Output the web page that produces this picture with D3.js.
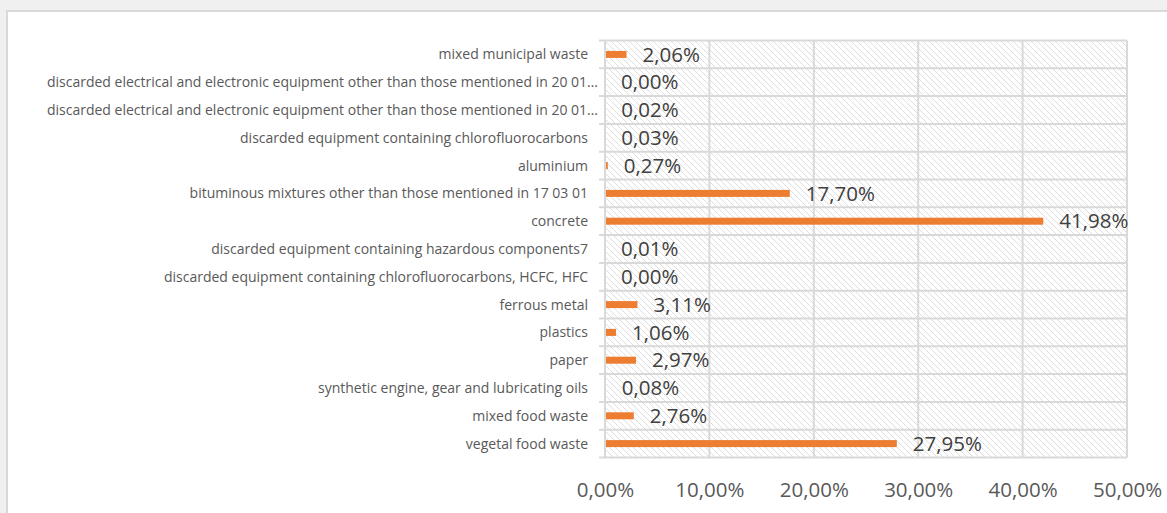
<!DOCTYPE html>
<html><head><meta charset="utf-8">
<script src="https://cdn.jsdelivr.net/npm/d3@7"></script>
<style>html,body{margin:0;padding:0;background:#f0f0f0;overflow:hidden}</style>
</head><body>
<svg id="c" width="1167" height="513"></svg>
<script>
const categories = [
  "mixed municipal waste",
  "discarded electrical and electronic equipment other than those mentioned in 20 01…",
  "discarded electrical and electronic equipment other than those mentioned in 20 01…",
  "discarded equipment containing chlorofluorocarbons",
  "aluminium",
  "bituminous mixtures other than those mentioned in 17 03 01",
  "concrete",
  "discarded equipment containing hazardous components7",
  "discarded equipment containing chlorofluorocarbons, HCFC, HFC",
  "ferrous metal",
  "plastics",
  "paper",
  "synthetic engine, gear and lubricating oils",
  "mixed food waste",
  "vegetal food waste"
];
const values = [2.06, 0.00, 0.02, 0.03, 0.27, 17.70, 41.98, 0.01, 0.00, 3.11, 1.06, 2.97, 0.08, 2.76, 27.95];
const xTicks = [0, 10, 20, 30, 40, 50];

const svg = d3.select("#c");
const fmt = v => v.toFixed(2).replace(".", ",") + "%";
const font = "'Open Sans', Lato, sans-serif";

svg.append("rect").attr("x", 7).attr("y", 11).attr("width", 1200).attr("height", 600)
  .attr("fill", "#fff").attr("stroke", "#d9d9d9").attr("stroke-width", 2);

const defs = svg.append("defs");
const pat = defs.append("pattern").attr("id", "hatch").attr("patternUnits", "userSpaceOnUse")
  .attr("width", 6).attr("height", 6);
pat.append("rect").attr("width", 6).attr("height", 6).attr("fill", "#fff");
pat.append("path").attr("d", "M-1,-1 L7,7 M-1,5 L1,7 M5,-1 L7,1").attr("stroke", "#dedede").attr("stroke-width", 1);

const L = 605, R = 1127, T = 40.5, B = 457.5;
const x = d3.scaleLinear().domain([0, 50]).range([L, R]);
const idx = d3.range(categories.length);
const y = d3.scaleBand().domain(idx).range([T, B]).paddingInner(0).paddingOuter(0);

svg.append("rect").attr("x", L).attr("y", T).attr("width", R - L).attr("height", B - T).attr("fill", "url(#hatch)");

const bounds = idx.map(i => y(i)).concat([B]);
svg.append("g").selectAll("line").data(bounds).join("line")
  .attr("x1", L - 6).attr("x2", R).attr("y1", d => d).attr("y2", d => d)
  .attr("stroke", "#d9d9d9").attr("stroke-width", 2);
svg.append("g").selectAll("line").data(xTicks).join("line")
  .attr("x1", d => x(d)).attr("x2", d => x(d)).attr("y1", T).attr("y2", B)
  .attr("stroke", "#d9d9d9").attr("stroke-width", 2);

const bh = 7;
svg.append("g").selectAll("rect").data(values).join("rect")
  .attr("x", x(0) + 1).attr("y", (d, i) => y(i) + y.bandwidth() / 2 - bh / 2)
  .attr("width", d => Math.max(0, x(d) - x(0) - 1)).attr("height", bh)
  .attr("fill", "#ed7d31");

svg.append("g").selectAll("text").data(values).join("text")
  .attr("x", d => x(d) + 16).attr("y", (d, i) => y(i) + y.bandwidth() / 2)
  .attr("dy", "0.35em").attr("font-family", font).attr("font-size", 20.5).attr("fill", "#404040")
  .text(d => fmt(d));

svg.append("g").selectAll("text").data(categories).join("text")
  .attr("x", d => d.endsWith("…") ? 598 : 588).attr("y", (d, i) => y(i) + y.bandwidth() / 2)
  .attr("dy", "0.35em").attr("text-anchor", "end").attr("font-family", font).attr("font-size", 14)
  .attr("fill", "#595959").text(d => d);

const xa = d3.axisBottom(x).tickValues(xTicks).tickSize(0).tickPadding(0).tickFormat(d => fmt(d));
const gx = svg.append("g").attr("transform", `translate(0,${B + 32})`).call(xa);
gx.select(".domain").remove();
gx.selectAll("text").attr("font-family", font).attr("font-size", 20.5).attr("fill", "#595959").attr("dy", "0.35em");
</script>
</body></html>
